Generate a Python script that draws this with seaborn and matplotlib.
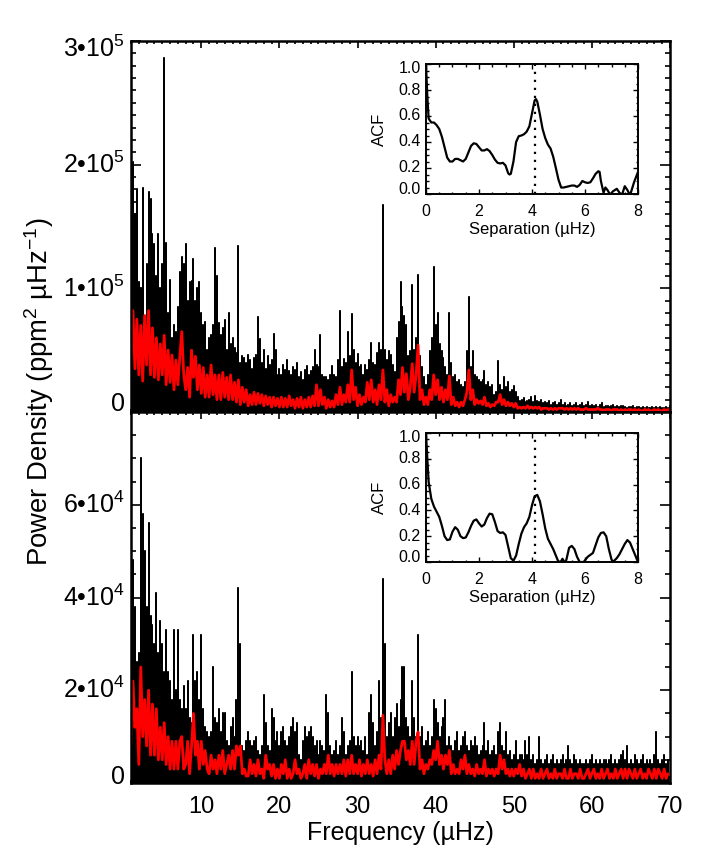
"""
Power density spectra with smoothed trace and ACF insets, two panels.
"""
import numpy as np
import pandas as pd
import matplotlib
matplotlib.use("Agg")
import matplotlib.pyplot as plt
import seaborn as sns

sns.set_theme(style="ticks")
plt.rcParams["font.family"] = ["Liberation Sans", "DejaVu Sans"]
plt.rcParams["mathtext.fontset"] = "custom"
plt.rcParams["mathtext.rm"] = "Liberation Sans"
plt.rcParams["mathtext.default"] = "regular"

W, H = 709, 866

# frequency grid, 4 samples per uHz, values below are in units of 1000 ppm^2/uHz
FREQ = np.arange(1, 70, 0.25)

top_black = [
    130,202,160,180, 105,100,181,70, 120,178,172,144, 136,110,144,100, 120,286,137,80,
    107,60,70,65, 85,113,125,120, 136,90,105,106, 124,90,100,105, 80,70,73,50,
    60,62,70,133, 110,72,62,68, 74,50,80,55, 60,52,48,134, 40,45,44,40,
    46,42,35,44, 46,77,59,40, 50,35,45,38, 42,63,50,30, 35,30,38,34,
    42,33,30,36, 34,40,28,32, 26,34,37,30, 33,36,50,38, 36,62,30,28,
    28,26,30,37, 30,28,42,82, 36,43,40,65, 45,79,50,40, 47,36,38,30,
    38,34,42,56, 40,38,48,56, 50,167,50,42, 49,46,38,32, 60,73,105,85,
    78,70,45,49, 103,50,60,111, 45,36,28,22, 30,49,60,117, 70,80,55,49,
    44,36,30,80, 40,28,30,24, 26,22,20,24, 49,93,36,49, 30,28,26,24,
    26,33,22,24, 20,22,14,16, 41,22,18,28, 20,24,16,18, 21,16,12,9,
    10,11,8,9, 10,12,8,13, 9,8,10,7, 8,7,9,6, 7,8,6,7,
    10,6,7,5, 6,7,5,6, 7,5,6,7, 5,6,8,5, 6,5,6,4,
    6,7,4,5, 5,4,5,6, 4,5,4,5, 5,4,3,4, 4,5,3,4,
    4,3,4,3, 4,3,3,4, 3,4,3,4, 3,3,4,3,
]
top_red = [
    45,82,35,75, 30,70,25,78, 38,82,30,68, 28,60,26,55, 30,62,22,50,
    24,46,18,42, 22,45,65,30, 18,36,12,50, 28,45,18,38, 15,36,12,30,
    12,38,14,30, 10,30,10,32, 12,28,10,30, 10,24,8,26, 6,20,8,18,
    5,14,6,16, 6,15,7,14, 5,13,6,12, 4,12,5,11, 4,12,4,11,
    4,13,5,10, 3,11,4,12, 3,10,4,12, 4,13,5,22, 5,18,6,12,
    3,10,4,9, 4,14,6,20, 6,14,8,22, 8,34,10,20, 5,14,6,12,
    8,24,10,26, 8,18,6,22, 10,34,8,18, 5,14,8,12, 8,26,14,36,
    16,31,10,20, 39,16,30,54, 10,18,6,12, 6,18,10,30, 14,26,10,20,
    8,18,10,29, 6,12,5,8, 4,8,5,10, 16,34,10,18, 6,10,7,9,
    6,12,5,7, 4,6,5,8, 8,14,6,10, 5,8,5,7, 4,7,3,4,
    3,4,3,5, 3,4,3,4, 3,4,2,3, 3,3,2,3, 2,3,2,3,
    3,3,2,3, 2,3,2,3, 2,3,2,2, 2,3,2,2, 2,2,2,3,
    2,2,1,2, 2,2,1,2, 2,2,1,2, 1,2,1,2, 2,1,2,1,
    2,1,1,2, 1,2,1,1, 2,1,2,1, 1,2,1,2,
]
bot_black = [
    34,48,38,26, 28,70,58,50, 38,56,36,34, 30,41,28,35, 30,24,33,24,
    22,18,33,20, 33,18,16,21, 16,22,14,13, 32,22,24,18, 32,16,12,11,
    10,11,25,14, 13,16,11,15, 15,9,8,12, 14,10,18,42, 30,8,7,9,
    11,9,8,9, 10,7,6,8, 19,13,8,7, 16,14,9,11, 8,11,12,9,
    8,10,12,14, 11,13,6,5, 9,12,10,11, 12,10,8,9, 6,9,8,7,
    19,15,8,6, 7,9,6,8, 14,11,6,8, 9,24,10,8, 10,8,9,7,
    10,6,15,19, 13,8,11,22, 14,44,30,10, 13,15,10,14, 17,12,18,25,
    25,14,12,10, 22,14,10,32, 10,12,8,9, 11,8,10,18, 16,13,10,12,
    14,18,8,10, 8,7,9,11, 7,8,10,11, 8,7,9,8, 10,8,6,7,
    8,13,7,9, 6,7,8,6, 11,13,8,7, 11,6,7,5, 6,9,5,6,
    6,5,9,6, 10,5,6,4, 5,10,5,4, 5,6,4,5, 6,4,5,4,
    5,6,4,5, 8,5,4,6, 5,4,5,4, 4,5,4,5, 6,4,5,4,
    5,4,5,5, 4,5,6,4, 5,4,5,6, 7,5,8,4, 5,4,6,5,
    4,5,6,4, 5,4,5,4, 6,11,5,4, 5,6,4,5,
]
bot_red = [
    8,22,12,16, 4,25,10,18, 8,20,6,17, 6,16,5,12, 5,13,4,10,
    3,9,3,9, 3,9,10,3, 4,9,2,8, 15,6,9,3, 9,4,7,3,
    2,6,3,5, 2,6,3,7, 2,4,6,3, 7,3,8,6, 8,2,3,1.5,
    1.5,5,2,4, 1.5,5,2,3, 1,6,3,4, 1.5,4,1,3, 1,4,2,5,
    1,3,1,2, 5,2,3,1, 2,4,1,5, 2,4,1.5,4, 1,3,2,4,
    2,6,2,4, 1.5,4,2,4, 2,5,1.5,5, 2,6,2,4, 2,5,1.5,4,
    2,5,2,4, 1.5,5,2,6, 3,14.6,5,2, 5,2,6,3, 7,4,7,9,
    9,5,7,4, 9,4,9,11, 3,5,2,4, 3,5,4,7, 5,9,4,6,
    3,6,4,7, 2,4,2,3, 2,5,3,6, 2,4,2,3, 1.5,4,2,3,
    2,5,1.5,3, 2,3,1.5,3, 2,6,3,5, 2,3,1.5,3, 1.5,3,2,4,
    1.5,3,1,2, 3,1,3,1, 2,1,3,1, 2,3,1,2, 1,3,1,2,
    2,1,3,1, 1,3,1,2, 2,1,3,1, 1,2,3,1, 2,3,1,2,
    1,3,1,2, 3,1,2,1, 3,1,2,3, 1,3,1,3, 2,1,3,1,
    2,3,1,2, 1,3,2,1, 3,1,3,2, 1,3,1,2,
]

acf_top_x = [0,.05,.1,.2,.3,.4,.5,.6,.7,.8,.9,1,1.1,1.2,1.3,1.4,1.5,1.6,1.7,1.8,1.9,2,2.1,2.2,2.3,2.4,2.5,2.6,2.7,
             2.8,2.9,3,3.1,3.15,3.2,3.3,3.4,3.5,3.6,3.7,3.8,3.9,4,4.1,4.15,4.2,4.3,4.4,4.5,4.6,4.7,4.8,4.9,5,5.1,
             5.2,5.3,5.5,5.6,5.7,5.8,5.9,6,6.1,6.2,6.3,6.4,6.5,6.55,6.6,6.7,6.77,6.85,6.95,7.05,7.2,7.3,7.4,7.5,7.6,7.7,7.85,8]
acf_top_y = [1,.75,.58,.55,.55,.53,.5,.44,.36,.28,.25,.25,.27,.27,.26,.25,.27,.32,.37,.39,.385,.36,.335,.335,.345,.33,.3,.265,.24,
             .235,.24,.22,.16,.15,.155,.25,.4,.445,.45,.46,.48,.52,.62,.72,.73,.71,.61,.5,.43,.38,.35,.287,.2,.11,.05,
             .05,.055,.065,.065,.055,.07,.1,.09,.085,.09,.12,.155,.175,.17,.1,.01,.05,.03,-.005,.02,.04,.01,-.005,.06,.03,-.01,.09,.17]
acf_bot_x = [0,.05,.1,.2,.3,.4,.5,.6,.7,.8,.9,1,1.1,1.2,1.3,1.4,1.5,1.6,1.7,1.8,1.9,2,2.1,2.2,2.3,2.4,2.5,2.6,2.7,
             2.8,2.9,3,3.1,3.2,3.3,3.4,3.5,3.6,3.7,3.8,3.9,4,4.1,4.2,4.3,4.4,4.5,4.6,4.7,4.8,4.9,5,5.05,5.15,5.25,5.3,
             5.4,5.5,5.6,5.7,5.8,5.95,6.1,6.3,6.4,6.5,6.6,6.7,6.8,6.9,7,7.05,7.2,7.3,7.5,7.6,7.7,7.8,7.9,8]
acf_bot_y = [1,.8,.62,.49,.43,.39,.35,.28,.2,.17,.175,.235,.27,.25,.2,.185,.19,.23,.28,.32,.33,.3,.275,.29,.34,.375,.37,.31,.24,
             .225,.23,.21,.12,.03,.01,.05,.14,.22,.27,.3,.35,.44,.51,.52,.47,.37,.26,.18,.14,.1,.05,0,-.01,.025,-.01,.02,
             .11,.125,.1,.04,0,0,.04,.07,.13,.19,.225,.23,.2,.1,.02,0,.03,.06,.14,.17,.15,.1,.05,0]
SEPARATION = 4.1

top_ticks = [0, 1e5, 2e5, 3e5]
top_labels = ["0", "1•10$^{5}$", "2•10$^{5}$", "3•10$^{5}$"]
top_shift = [8, 0, 0, -8]
bot_ticks = [0, 2e4, 4e4, 6e4]
bot_labels = ["0", "2•10$^{4}$", "4•10$^{4}$", "6•10$^{4}$"]
bot_shift = [6, 0, 0, 0]
x_ticks = [10, 20, 30, 40, 50, 60, 70]


def px_axes(fig, x0, y0, x1, y1):
    """Axes from pixel box, y counted from the top of the image."""
    return fig.add_axes([x0 / W, 1 - y1 / H, (x1 - x0) / W, (y1 - y0) / H])


def panel(ax, black, red, ymax, ticks, labels, shift, minor):
    # each sample drawn as a vertical stroke up from the floor
    stems = np.column_stack([np.zeros(len(black)), black, np.zeros(len(black))]).ravel() * 1e3
    df = pd.DataFrame({"f": np.repeat(FREQ, 3), "p": stems})
    sns.lineplot(data=df, x="f", y="p", color="black", lw=1.15, estimator=None, sort=False, ax=ax)
    df = pd.DataFrame({"f": FREQ, "p": np.array(red) * 1e3})
    sns.lineplot(data=df, x="f", y="p", color="#ff0000", lw=2.0, estimator=None, sort=False, ax=ax)
    ax.set_xlim(1, 70)
    ax.set_ylim(0, ymax)
    ax.set_xlabel("")
    ax.set_ylabel("")
    ax.set_xticks(x_ticks)
    ax.set_xticks(np.arange(1, 71), minor=True)
    ax.set_yticks(ticks)
    ax.set_yticks(np.arange(0, ymax + 1, minor), minor=True)
    ax.set_yticklabels([])
    ax.tick_params(which="major", axis="y", direction="in", length=7.5, width=1.2, left=True, right=True, color="black")
    ax.tick_params(which="minor", axis="y", direction="in", length=3.6, width=1.2, left=True, right=True, color="black")
    ax.tick_params(which="major", axis="x", direction="in", length=5, width=1.2, top=True, bottom=True, color="black")
    ax.tick_params(which="minor", axis="x", direction="in", length=2.5, width=1.2, top=True, bottom=True, color="black")
    for s in ax.spines.values():
        s.set_linewidth(1.8)
        s.set_color("black")
    for v, lab, dy in zip(ticks, labels, shift):
        ax.annotate(lab, (0, v), xycoords=ax.get_yaxis_transform(), xytext=(-6, dy), textcoords="offset pixels",
                    ha="right", va="center", fontsize=18, color="black")


def inset(fig, box, x, y):
    ax = px_axes(fig, *box)
    df = pd.DataFrame({"sep": x, "acf": y})
    sns.lineplot(data=df, x="sep", y="acf", color="black", lw=1.6, estimator=None, sort=False, ax=ax)
    ax.axvline(SEPARATION, color="black", ls=(0, (1, 2.6)), lw=1.6)
    ax.set_xlim(0, 8)
    ax.set_ylim(0, 1)
    ax.set_xticks([0, 2, 4, 6, 8])
    ax.set_xticks(np.arange(0, 8.1, 0.5), minor=True)
    ax.set_yticks(np.arange(0, 1.01, 0.2))
    ax.set_yticks(np.arange(0, 1.01, 0.05), minor=True)
    ax.set_yticklabels([])
    ax.tick_params(which="major", direction="in", length=3.6, width=1, top=True, right=True, left=True, bottom=True, color="black")
    ax.tick_params(which="minor", direction="in", length=1.8, width=1, top=True, right=True, left=True, bottom=True, color="black")
    ax.tick_params(axis="x", which="major", labelsize=11.5, pad=7, labelcolor="black")
    ax.set_xlabel("Separation (µHz)", fontsize=12, labelpad=2.5, color="black")
    ax.set_ylabel("")
    for s in ax.spines.values():
        s.set_linewidth(1.4)
        s.set_color("black")
    for v in np.arange(0, 1.01, 0.2):
        dy = 4 if v < 0.01 else (-4 if v > 0.99 else 0)
        ax.annotate(f"{v:.1f}", (0, v), xycoords=ax.get_yaxis_transform(), xytext=(-5, dy), textcoords="offset pixels",
                    ha="right", va="center", fontsize=11.5, color="black")
    ax.text(379 / W, 1 - (box[1] + box[3]) / 2 / H, "ACF", transform=fig.transFigure, rotation=90,
            ha="center", va="center", fontsize=12, color="black")
    return ax


fig = plt.figure(figsize=(W / 100, H / 100), dpi=100, facecolor="white")

ax1 = px_axes(fig, 131, 41, 670, 412)
panel(ax1, top_black, top_red, 3e5, top_ticks, top_labels, top_shift, 1e4)
ax2 = px_axes(fig, 131, 412, 670, 783)
panel(ax2, bot_black, bot_red, 8e4, bot_ticks, bot_labels, bot_shift, 5e3)
ax1.set_xticklabels([])
ax2.tick_params(axis="x", which="major", labelsize=17, pad=9.5, labelcolor="black")
ax2.set_xlabel("Frequency (µHz)", fontsize=18, labelpad=2, color="black")

inset(fig, (426, 64, 638, 194), acf_top_x, acf_top_y)
inset(fig, (426, 433, 638, 562), acf_bot_x, acf_bot_y)

fig.text(39 / W, 1 - 392 / H, "Power Density (ppm$^{2}$ µHz$^{-1}$)", rotation=90, ha="center", va="center",
         fontsize=19.8, color="black")

fig.savefig("out.png", dpi=100)
plt.close(fig)
